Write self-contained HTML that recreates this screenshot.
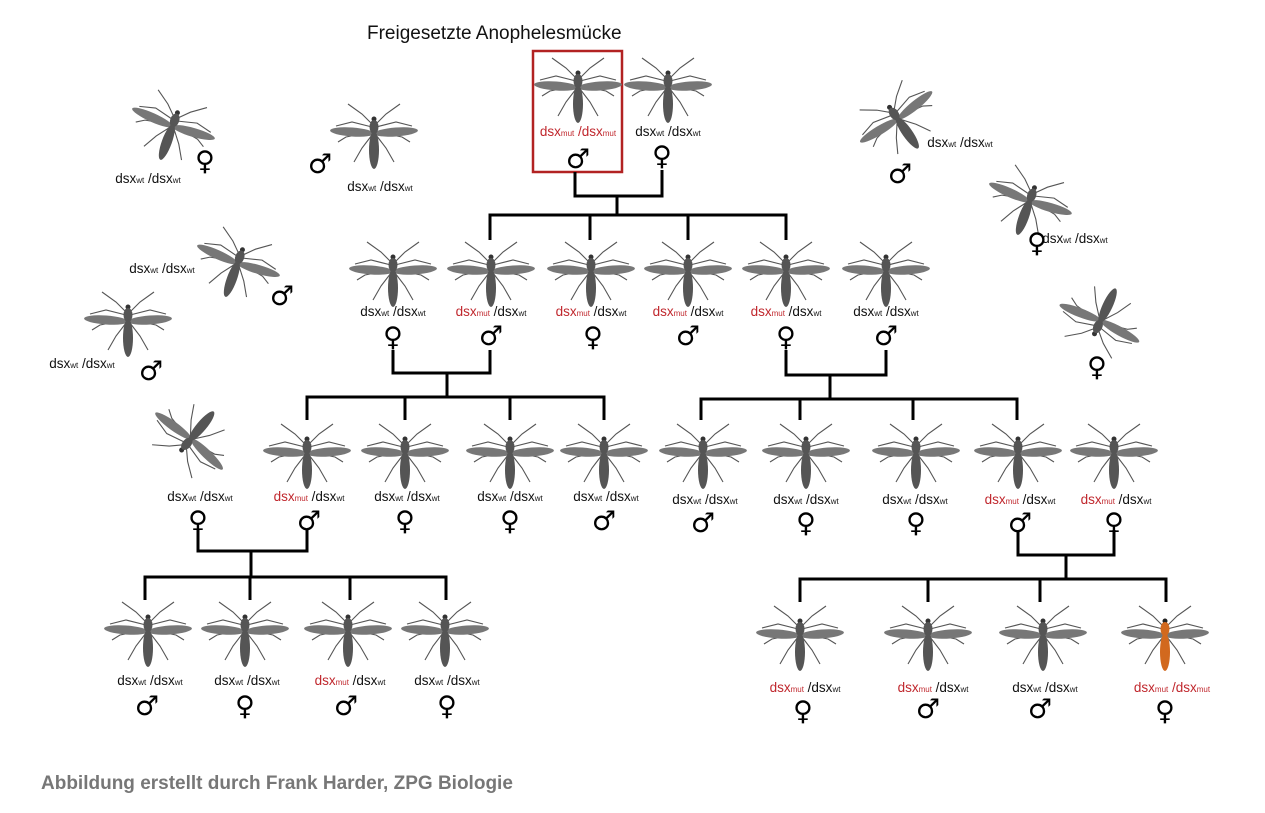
<!DOCTYPE html>
<html><head><meta charset="utf-8"><style>
html,body{margin:0;padding:0;background:#fff;width:1265px;height:813px;overflow:hidden}
svg{display:block}
.g{font-family:"Liberation Sans",sans-serif;font-size:13.5px;fill:#111;text-anchor:middle}
.s{font-size:8px}
.r{fill:#c0272d}
.x{font-family:"DejaVu Sans",sans-serif;font-size:27px;fill:#000;text-anchor:middle;font-weight:bold}
.ln{stroke:#000;stroke-width:3;fill:none}
</style></head><body>
<svg width="1265" height="813" viewBox="0 0 1265 813">
<defs>
<g id="legs" stroke="#555" stroke-width="1.1" fill="none">
  <path d="M-2,-8 L-12,-18 L-26,-28"/><path d="M2,-8 L12,-18 L26,-28"/>
  <path d="M-2,-5 L-22,-10 L-38,-6"/><path d="M2,-5 L22,-10 L38,-6"/>
  <path d="M-2,3 L-12,16 L-20,30"/><path d="M2,3 L12,16 L20,30"/>
  <path d="M-2,0 L-28,5 L-36,10"/><path d="M2,0 L28,5 L36,10"/>
</g>
<g id="m">
 <use href="#legs"/>
 <ellipse cx="-22" cy="0" rx="22" ry="4.5" fill="#777" transform="rotate(4 -22 0)"/>
 <ellipse cx="22" cy="0" rx="22" ry="4.5" fill="#777" transform="rotate(-4 22 0)"/>
 <circle cx="0" cy="-13" r="2.5" fill="#333"/>
 <ellipse cx="0" cy="-5" rx="4.5" ry="7" fill="#555"/>
 <ellipse cx="0" cy="18" rx="5" ry="19" fill="#555"/>
</g>
<g id="mo">
 <use href="#legs"/>
 <ellipse cx="-22" cy="0" rx="22" ry="4.5" fill="#777" transform="rotate(4 -22 0)"/>
 <ellipse cx="22" cy="0" rx="22" ry="4.5" fill="#777" transform="rotate(-4 22 0)"/>
 <circle cx="0" cy="-13" r="2.5" fill="#222"/>
 <ellipse cx="0" cy="-5" rx="4.5" ry="7" fill="#d2691e"/>
 <ellipse cx="0" cy="18" rx="5" ry="19" fill="#d2691e"/>
</g>
</defs>

<text x="367" y="39" font-family="Liberation Sans,sans-serif" font-size="19" fill="#111">Freigesetzte Anophelesmücke</text>
<rect x="533" y="51" width="89" height="121" fill="none" stroke="#b22222" stroke-width="2.5"/>

<path class="ln" d="M575,172 V196 H662 V170 M617,196 V215 M490,240 V215 H786 V240 M590,215 V240 M688,215 V240"/>
<path class="ln" d="M393,350 V373 H490 V350 M447,373 V397 M307,420 V397 H604 V420 M405,397 V420 M510,397 V420"/>
<path class="ln" d="M786,350 V375 H886 V350 M830,375 V399 M701,420 V399 H1017 V420 M800,399 V420 M913,399 V420"/>
<path class="ln" d="M198,530 V551 H307 V530 M251,551 V577 M145,600 V577 H446 V600 M250,577 V600 M350,577 V600"/>
<path class="ln" d="M1018,530 V555 H1114 V530 M1066,555 V579 M800,602 V579 H1166 V602 M928,579 V602 M1040,579 V602"/>

<use href="#m" x="578" y="86"/><use href="#m" x="668" y="86"/>
<text class="g r" x="578" y="136">dsx<tspan class="s">mut</tspan> /dsx<tspan class="s">mut</tspan></text>
<text class="g" x="668" y="136">dsx<tspan class="s">wt</tspan> /dsx<tspan class="s">wt</tspan></text>
<text class="x" x="578" y="168">♂</text><text class="x" x="662" y="165">♀</text>

<use href="#m" transform="translate(173,125) rotate(20)"/>
<text class="g" x="148" y="183">dsx<tspan class="s">wt</tspan> /dsx<tspan class="s">wt</tspan></text><text class="x" x="205" y="170">♀</text>
<use href="#m" x="374" y="132"/>
<text class="g" x="380" y="191">dsx<tspan class="s">wt</tspan> /dsx<tspan class="s">wt</tspan></text><text class="x" x="320" y="173">♂</text>
<use href="#m" transform="translate(897,118) rotate(-35)"/>
<text class="g" x="960" y="147">dsx<tspan class="s">wt</tspan> /dsx<tspan class="s">wt</tspan></text><text class="x" x="900" y="183">♂</text>
<use href="#m" transform="translate(1030,200) rotate(20)"/>
<text class="g" x="1075" y="243">dsx<tspan class="s">wt</tspan> /dsx<tspan class="s">wt</tspan></text><text class="x" x="1037" y="252">♀</text>
<use href="#m" transform="translate(238,262) rotate(20)"/>
<text class="g" x="162" y="273">dsx<tspan class="s">wt</tspan> /dsx<tspan class="s">wt</tspan></text><text class="x" x="282" y="305">♂</text>
<use href="#m" x="128" y="320"/>
<text class="g" x="82" y="368">dsx<tspan class="s">wt</tspan> /dsx<tspan class="s">wt</tspan></text><text class="x" x="151" y="380">♂</text>
<use href="#m" transform="translate(1100,322) rotate(205)"/>
<text class="x" x="1097" y="376">♀</text>
<use href="#m" transform="translate(190,440) rotate(-140)"/>

<use href="#m" x="393" y="270"/><use href="#m" x="491" y="270"/><use href="#m" x="591" y="270"/>
<use href="#m" x="688" y="270"/><use href="#m" x="786" y="270"/><use href="#m" x="886" y="270"/>
<text class="g" x="393" y="316">dsx<tspan class="s">wt</tspan> /dsx<tspan class="s">wt</tspan></text>
<text class="g" x="491" y="316"><tspan class="r">dsx<tspan class="s">mut</tspan></tspan> /dsx<tspan class="s">wt</tspan></text>
<text class="g" x="591" y="316"><tspan class="r">dsx<tspan class="s">mut</tspan></tspan> /dsx<tspan class="s">wt</tspan></text>
<text class="g" x="688" y="316"><tspan class="r">dsx<tspan class="s">mut</tspan></tspan> /dsx<tspan class="s">wt</tspan></text>
<text class="g" x="786" y="316"><tspan class="r">dsx<tspan class="s">mut</tspan></tspan> /dsx<tspan class="s">wt</tspan></text>
<text class="g" x="886" y="316">dsx<tspan class="s">wt</tspan> /dsx<tspan class="s">wt</tspan></text>
<text class="x" x="393" y="346">♀</text><text class="x" x="491" y="345">♂</text><text class="x" x="593" y="346">♀</text>
<text class="x" x="688" y="345">♂</text><text class="x" x="786" y="346">♀</text><text class="x" x="886" y="345">♂</text>

<text class="g" x="200" y="501">dsx<tspan class="s">wt</tspan> /dsx<tspan class="s">wt</tspan></text><text class="x" x="198" y="530">♀</text>
<use href="#m" x="307" y="452"/><use href="#m" x="405" y="452"/><use href="#m" x="510" y="452"/><use href="#m" x="604" y="452"/>
<use href="#m" x="703" y="452"/><use href="#m" x="806" y="452"/><use href="#m" x="916" y="452"/><use href="#m" x="1018" y="452"/><use href="#m" x="1114" y="452"/>
<text class="g" x="309" y="501"><tspan class="r">dsx<tspan class="s">mut</tspan></tspan> /dsx<tspan class="s">wt</tspan></text>
<text class="g" x="407" y="501">dsx<tspan class="s">wt</tspan> /dsx<tspan class="s">wt</tspan></text>
<text class="g" x="510" y="501">dsx<tspan class="s">wt</tspan> /dsx<tspan class="s">wt</tspan></text>
<text class="g" x="606" y="501">dsx<tspan class="s">wt</tspan> /dsx<tspan class="s">wt</tspan></text>
<text class="g" x="705" y="504">dsx<tspan class="s">wt</tspan> /dsx<tspan class="s">wt</tspan></text>
<text class="g" x="806" y="504">dsx<tspan class="s">wt</tspan> /dsx<tspan class="s">wt</tspan></text>
<text class="g" x="915" y="504">dsx<tspan class="s">wt</tspan> /dsx<tspan class="s">wt</tspan></text>
<text class="g" x="1020" y="504"><tspan class="r">dsx<tspan class="s">mut</tspan></tspan> /dsx<tspan class="s">wt</tspan></text>
<text class="g" x="1116" y="504"><tspan class="r">dsx<tspan class="s">mut</tspan></tspan> /dsx<tspan class="s">wt</tspan></text>
<text class="x" x="309" y="530">♂</text><text class="x" x="405" y="530">♀</text><text class="x" x="510" y="530">♀</text><text class="x" x="604" y="530">♂</text>
<text class="x" x="703" y="532">♂</text><text class="x" x="806" y="532">♀</text><text class="x" x="916" y="532">♀</text><text class="x" x="1020" y="532">♂</text><text class="x" x="1114" y="532">♀</text>

<use href="#m" x="148" y="630"/><use href="#m" x="245" y="630"/><use href="#m" x="348" y="630"/><use href="#m" x="445" y="630"/>
<text class="g" x="150" y="685">dsx<tspan class="s">wt</tspan> /dsx<tspan class="s">wt</tspan></text>
<text class="g" x="247" y="685">dsx<tspan class="s">wt</tspan> /dsx<tspan class="s">wt</tspan></text>
<text class="g" x="350" y="685"><tspan class="r">dsx<tspan class="s">mut</tspan></tspan> /dsx<tspan class="s">wt</tspan></text>
<text class="g" x="447" y="685">dsx<tspan class="s">wt</tspan> /dsx<tspan class="s">wt</tspan></text>
<text class="x" x="147" y="715">♂</text><text class="x" x="245" y="715">♀</text><text class="x" x="346" y="715">♂</text><text class="x" x="447" y="715">♀</text>

<use href="#m" x="800" y="634"/><use href="#m" x="928" y="634"/><use href="#m" x="1043" y="634"/><use href="#mo" x="1165" y="634"/>
<text class="g" x="805" y="692"><tspan class="r">dsx<tspan class="s">mut</tspan></tspan> /dsx<tspan class="s">wt</tspan></text>
<text class="g" x="933" y="692"><tspan class="r">dsx<tspan class="s">mut</tspan></tspan> /dsx<tspan class="s">wt</tspan></text>
<text class="g" x="1045" y="692">dsx<tspan class="s">wt</tspan> /dsx<tspan class="s">wt</tspan></text>
<text class="g r" x="1172" y="692">dsx<tspan class="s">mut</tspan> /dsx<tspan class="s">mut</tspan></text>
<text class="x" x="803" y="720">♀</text><text class="x" x="928" y="718">♂</text><text class="x" x="1040" y="718">♂</text><text class="x" x="1165" y="720">♀</text>

<text x="41" y="789" font-family="Liberation Sans,sans-serif" font-size="19" font-weight="bold" fill="#777">Abbildung erstellt durch Frank Harder, ZPG Biologie</text>
</svg>
</body></html>
